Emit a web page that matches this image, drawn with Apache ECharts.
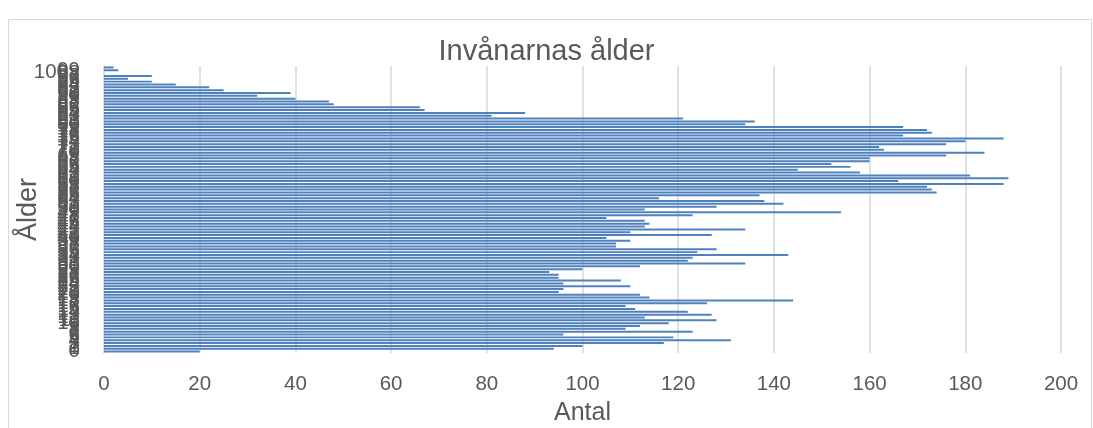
<!DOCTYPE html>
<html>
<head>
<meta charset="utf-8">
<script src="https://cdn.jsdelivr.net/npm/echarts@6/dist/echarts.min.js"></script>
<style>
  html, body { margin: 0; padding: 0; background: #fff; }
  #chart { width: 1093px; height: 428px; }
</style>
</head>
<body>
<div id="chart"></div>
<script>
// ages 0..100 (bottom to top)
const ages = Array.from({ length: 101 }, (_, i) => String(i))

// antal per age, listed from age 100 down to age 0
const antalFrom100 = [
  2, 3, 0, 10, 5, 10, 15, 22, 25, 39,
  32, 40, 47, 48, 66, 67, 88, 81, 121, 136,
  134, 167, 172, 173, 167, 188, 180, 176, 162, 163,
  184, 176, 160, 160, 152, 156, 145, 158, 181, 189,
  166, 188, 172, 173, 174, 137, 116, 138, 142, 128,
  113, 154, 123, 105, 113, 114, 113, 134, 110, 127,
  105, 110, 107, 107, 128, 124, 143, 123, 122, 134,
  112, 100, 93, 95, 95, 108, 96, 110, 96, 95,
  112, 114, 144, 126, 109, 111, 122, 127, 113, 128,
  118, 112, 109, 123, 96, 119, 131, 117, 100, 94,
  20,
]
const antal = antalFrom100.slice().reverse()

const xTicks = { min: 0, max: 200, interval: 20 }

const font = '"Liberation Sans", Arial, sans-serif'
const textColor = '#595959'

const chart = echarts.init(document.getElementById('chart'))

chart.setOption({
  animation: false,
  title: {
    text: 'Invånarnas ålder',
    left: 'center',
    top: 32,
    textStyle: { color: textColor, fontFamily: font, fontWeight: 'normal', fontSize: 29 },
  },
  graphic: [
    {
      type: 'rect',
      shape: { x: 8.5, y: 19.5, width: 1083, height: 420 },
      style: { fill: 'none', stroke: '#d9d9d9', lineWidth: 1 },
    },
  ],
  grid: { left: 104, right: 32, top: 66, height: 287, outerBoundsMode: 'none' },
  xAxis: {
    type: 'value',
    min: xTicks.min,
    max: xTicks.max,
    interval: xTicks.interval,
    name: 'Antal',
    nameLocation: 'middle',
    nameGap: 48,
    nameMoveOverlap: false,
    nameTextStyle: { color: textColor, fontFamily: font, fontSize: 25 },
    axisLine: { show: false },
    axisTick: { show: false },
    axisLabel: { color: textColor, fontFamily: font, fontSize: 20.5, margin: 21 },
    splitLine: { lineStyle: { color: '#d9d9d9', width: 1.5 } },
  },
  yAxis: {
    type: 'category',
    data: ages,
    name: 'Ålder',
    nameLocation: 'middle',
    nameRotate: 90,
    nameGap: 62,
    nameMoveOverlap: false,
    nameTextStyle: { color: textColor, fontFamily: font, fontSize: 27 },
    axisLine: { show: true, lineStyle: { color: '#d9d9d9', width: 1.5 } },
    axisTick: { show: false },
    axisLabel: {
      interval: 0,
      color: textColor,
      fontFamily: font,
      fontSize: 20.5,
      margin: 24,
      formatter: v => (v === '100' ? '{top|100}' : v),
      rich: { top: { color: textColor, fontFamily: font, fontSize: 20.5, padding: [10, 12, 0, 0] } },
    },
  },
  series: [
    {
      type: 'bar',
      data: antal,
      barCategoryGap: '30%',
      itemStyle: { color: '#4f81bd' },
    },
  ],
})
</script>
</body>
</html>
